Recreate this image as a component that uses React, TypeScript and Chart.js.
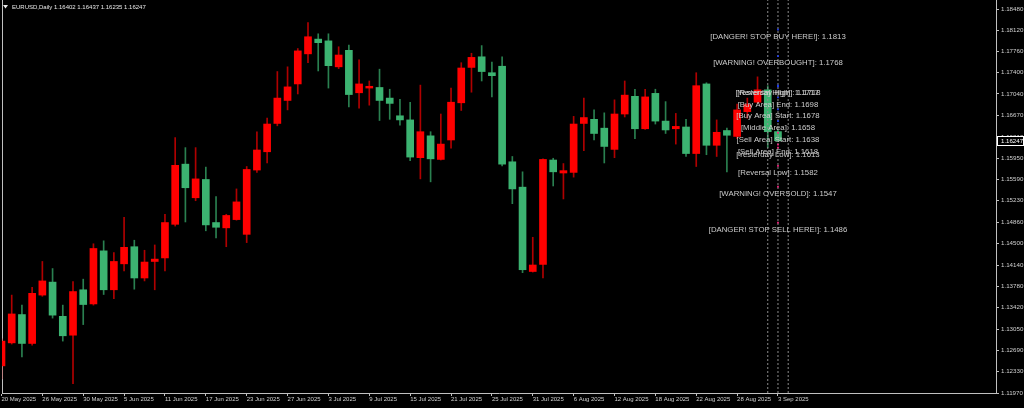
import React, { useEffect, useRef } from "react";
import { Chart, registerables } from "chart.js";

Chart.register(...registerables);

// ---- data ----
const TITLE_TEXT = "EURUSD,Daily 1.16402 1.16437 1.16235 1.16247";

const OPEN = [
  1.1243, 1.1282, 1.1330, 1.1281, 1.1363, 1.1385, 1.1327, 1.1295, 1.1372, 1.1348,
  1.1438, 1.1372, 1.1416, 1.1445, 1.1392, 1.1420, 1.1426, 1.1483, 1.1585, 1.1528,
  1.1559, 1.1486, 1.1477, 1.1491, 1.1466, 1.1575, 1.1606, 1.1654, 1.1693, 1.1721,
  1.1772, 1.1797, 1.1794, 1.1750, 1.1778, 1.1706, 1.1714, 1.1715, 1.1697, 1.1667,
  1.1660, 1.1596, 1.1633, 1.1593, 1.1626, 1.1689, 1.1749, 1.1767, 1.1740, 1.1751,
  1.1589, 1.1546, 1.1403, 1.1415, 1.1592, 1.1570, 1.1571, 1.1654, 1.1661, 1.1646,
  1.1610, 1.1670, 1.1700, 1.1645, 1.1705, 1.1658, 1.1645, 1.1648, 1.1603, 1.1721,
  1.1617, 1.1642, 1.1632, 1.1674, 1.1690, 1.1711, 1.16402,
];
const HIGH = [
  1.1289, 1.1363, 1.1346, 1.1376, 1.1420, 1.1408, 1.1346, 1.1386, 1.1390, 1.1450,
  1.1455, 1.1435, 1.1495, 1.1456, 1.1439, 1.1448, 1.1500, 1.1630, 1.1613, 1.1613,
  1.1580, 1.1530, 1.1500, 1.1543, 1.1581, 1.1640, 1.1663, 1.1742, 1.1750, 1.1781,
  1.1825, 1.1806, 1.1806, 1.1784, 1.1787, 1.1762, 1.1726, 1.1746, 1.1712, 1.1695,
  1.1690, 1.1719, 1.1640, 1.1670, 1.1714, 1.1757, 1.1773, 1.1786, 1.1758, 1.1767,
  1.1598, 1.1572, 1.1461, 1.1594, 1.1595, 1.1586, 1.1666, 1.1697, 1.1677, 1.1672,
  1.1694, 1.1726, 1.1712, 1.1712, 1.1712, 1.1691, 1.1671, 1.1661, 1.1740, 1.1723,
  1.1660, 1.1646, 1.1687, 1.1697, 1.1733, 1.1718, 1.16437,
];
const LOW = [
  1.1221, 1.1280, 1.1258, 1.1278, 1.1361, 1.1324, 1.1285, 1.1213, 1.1313, 1.1346,
  1.1364, 1.1357, 1.1404, 1.1373, 1.1387, 1.1372, 1.1404, 1.1480, 1.1487, 1.1523,
  1.1472, 1.1460, 1.1445, 1.1490, 1.1452, 1.1571, 1.1587, 1.1650, 1.1677, 1.1704,
  1.1757, 1.1743, 1.1714, 1.1747, 1.1682, 1.1680, 1.1685, 1.1659, 1.1661, 1.1651,
  1.1591, 1.1560, 1.1555, 1.1592, 1.1612, 1.1676, 1.1707, 1.1726, 1.1699, 1.1582,
  1.1518, 1.1401, 1.1402, 1.1392, 1.1548, 1.1526, 1.1563, 1.1608, 1.1626, 1.1587,
  1.1596, 1.1665, 1.1628, 1.1644, 1.1653, 1.1637, 1.1619, 1.1598, 1.1581, 1.1601,
  1.1598, 1.1572, 1.1628, 1.1663, 1.1688, 1.1613, 1.16235,
];
const CLOSE = [
  1.1285, 1.1331, 1.1281, 1.1366, 1.1387, 1.1329, 1.1294, 1.1369, 1.1347, 1.1442,
  1.1372, 1.1420, 1.1444, 1.1392, 1.1419, 1.1424, 1.1486, 1.1583, 1.1545, 1.1560,
  1.1482, 1.1478, 1.1498, 1.1521, 1.1576, 1.1609, 1.1653, 1.1697, 1.1716, 1.1777,
  1.1801, 1.1791, 1.1752, 1.1770, 1.1703, 1.1721, 1.1717, 1.1693, 1.1688, 1.1660,
  1.1597, 1.1640, 1.1594, 1.1619, 1.1690, 1.1748, 1.1766, 1.1742, 1.1735, 1.1585,
  1.1543, 1.1406, 1.1414, 1.1593, 1.1572, 1.1574, 1.1653, 1.1664, 1.1637, 1.1615,
  1.1670, 1.1702, 1.1645, 1.1699, 1.1658, 1.1643, 1.1649, 1.1603, 1.1718, 1.1617,
  1.1639, 1.1634, 1.1677, 1.1686, 1.1711, 1.1640, 1.16247,
];

const X_TICK_POS = [0, 4, 8, 12, 16, 20, 24, 28, 32, 36, 40, 44, 48, 52, 56, 60, 64, 68, 72, 76];
const X_TICK_LABELS = [
  "20 May 2025", "26 May 2025", "30 May 2025", "5 Jun 2025", "11 Jun 2025",
  "17 Jun 2025", "23 Jun 2025", "27 Jun 2025", "3 Jul 2025", "9 Jul 2025",
  "15 Jul 2025", "21 Jul 2025", "25 Jul 2025", "31 Jul 2025", "6 Aug 2025",
  "12 Aug 2025", "18 Aug 2025", "22 Aug 2025", "28 Aug 2025", "3 Sep 2025",
];
const Y_TICKS = [
  1.1848, 1.1812, 1.1776, 1.174, 1.1704, 1.1667, 1.1631, 1.1595, 1.1559, 1.1523,
  1.1486, 1.145, 1.1414, 1.1378, 1.1342, 1.1305, 1.1269, 1.1233, 1.1197,
];
const Y_MIN = 1.1197;
const Y_MAX = 1.18633;
const X_MIN = 0.05;
const X_MAX = 97.34;

const LEVEL_LABELS = [
  "[DANGER! STOP BUY HERE!]",
  "[WARNING! OVERBOUGHT]",
  "[Reversal High]",
  "[Yesterday High]",
  "[Buy Area] End",
  "[Buy Area] Start",
  "[Middle Area]",
  "[Sell Area] Start",
  "[Sell Area] End",
  "[Yesterday Low]",
  "[Reversal Low]",
  "[WARNING! OVERSOLD]",
  "[DANGER! STOP SELL HERE!]",
];
const LEVEL_VALUES = [1.1813, 1.1768, 1.1717, 1.1718, 1.1698, 1.1678, 1.1658, 1.1638, 1.1618, 1.1613, 1.1582, 1.1547, 1.1486];
const LEVEL_SIDE = ["buy", "buy", "buy", "buy", "buy", "buy", "buy", "sell", "sell", "sell", "sell", "sell", "sell"];
const LEVEL_BAR = 76;
const VLINE_POS = [75, 76, 77];
const CURRENT_PRICE = 1.16247;

// ---- styles ----
const UP_BODY = "#ff0000";
const DOWN_BODY = "#3cb371";
const UP_WICK = "#b00000";
const DOWN_WICK = "#2a8050";
const AXIS_COLOR = "#c0c0c0";
const TEXT_COLOR = "#d0d0d0";
const FONT = '"Liberation Sans", Arial, sans-serif';

const isUp = (i: number) => CLOSE[i] >= OPEN[i];

const overlayPlugin = {
  id: "overlay",
  beforeDatasetsDraw(chart: any) {
    const { ctx, chartArea } = chart;
    ctx.save();
    ctx.strokeStyle = AXIS_COLOR;
    ctx.lineWidth = 1;
    ctx.beginPath();
    ctx.moveTo(chartArea.left + 0.5, chartArea.top);
    ctx.lineTo(chartArea.left + 0.5, chartArea.bottom);
    ctx.stroke();
    ctx.restore();
  },
  afterDraw(chart: any) {
    const { ctx, chartArea, scales } = chart;
    const x = scales.x;
    const y = scales.y;
    ctx.save();
    // level texts
    ctx.font = `7.8px ${FONT}`;
    ctx.fillStyle = "#cccccc";
    ctx.textAlign = "center";
    ctx.textBaseline = "top";
    LEVEL_LABELS.forEach((lab, i) => {
      ctx.fillText(
        `${lab}: ${LEVEL_VALUES[i].toFixed(4)}`,
        x.getPixelForValue(LEVEL_BAR),
        y.getPixelForValue(LEVEL_VALUES[i]) + 3
      );
    });
    // current price box on the axis
    const py = y.getPixelForValue(CURRENT_PRICE);
    ctx.fillStyle = "#000000";
    ctx.fillRect(chartArea.right + 1, py - 4.5, 1024 - chartArea.right - 1, 9);
    ctx.strokeStyle = "#ffffff";
    ctx.lineWidth = 1;
    ctx.strokeRect(chartArea.right + 1.5, Math.round(py - 4.5) + 0.5, 1024 - chartArea.right - 2, 9);
    ctx.fillStyle = "#ffffff";
    ctx.font = `6.1px ${FONT}`;
    ctx.textAlign = "left";
    ctx.textBaseline = "middle";
    ctx.fillText(CURRENT_PRICE.toFixed(5), chartArea.right + 5, py + 0.5);
    // title
    ctx.fillStyle = "#e8e8e8";
    ctx.beginPath();
    ctx.moveTo(3, 5);
    ctx.lineTo(8, 5);
    ctx.lineTo(5.5, 8.5);
    ctx.closePath();
    ctx.fill();
    ctx.font = `6px ${FONT}`;
    ctx.textAlign = "left";
    ctx.textBaseline = "middle";
    ctx.fillText(TITLE_TEXT, 12, 7);
    ctx.restore();
  },
};

export default function App() {
  const ref = useRef<HTMLCanvasElement>(null);

  useEffect(() => {
    document.body.style.margin = "0";
    document.body.style.background = "#000";
    const wickData = OPEN.map((_, i) => ({ x: i, y: [LOW[i], HIGH[i]] }));
    const bodyData = OPEN.map((o, i) => ({ x: i, y: [Math.min(o, CLOSE[i]), Math.max(o, CLOSE[i])] }));

    const datasets: any[] = [
      {
        type: "bar",
        label: "wick",
        data: wickData,
        backgroundColor: (c: any) => (isUp(c.dataIndex) ? UP_WICK : DOWN_WICK),
        borderWidth: 0,
        barThickness: 1,
        grouped: false,
        order: 4,
      },
      {
        type: "bar",
        label: "body",
        data: bodyData,
        backgroundColor: (c: any) => (isUp(c.dataIndex) ? UP_BODY : DOWN_BODY),
        borderWidth: 0,
        barThickness: 7,
        minBarLength: 1,
        grouped: false,
        order: 3,
      },
      ...VLINE_POS.map((p) => ({
        type: "line",
        label: "vline",
        data: [
          { x: p, y: Y_MIN },
          { x: p, y: Y_MAX },
        ],
        borderColor: "#8c8c8c",
        borderWidth: 1,
        borderDash: [2, 2],
        pointRadius: 0,
        order: 2,
      })),
      {
        type: "line",
        label: "markers",
        data: LEVEL_VALUES.map((v) => ({ x: LEVEL_BAR, y: v })),
        showLine: false,
        pointStyle: "rect",
        pointRadius: 1.2,
        pointBorderWidth: 0,
        pointBackgroundColor: LEVEL_SIDE.map((s) => (s === "buy" ? "#2040ff" : "#ff2080")),
        order: 1,
      },
    ];

    const chart = new Chart(ref.current as HTMLCanvasElement, {
      type: "bar",
      data: { datasets },
      options: {
        animation: false,
        responsive: false,
        maintainAspectRatio: false,
        events: [],
        layout: { autoPadding: false, padding: { left: 2, right: 0, top: 0, bottom: 0 } },
        plugins: { legend: { display: false }, tooltip: { enabled: false }, title: { display: false } },
        scales: {
          x: {
            type: "linear",
            min: X_MIN,
            max: X_MAX,
            offset: false,
            grid: { display: true, drawOnChartArea: false, drawTicks: true, tickLength: 3, color: AXIS_COLOR, offset: false },
            border: { display: true, color: AXIS_COLOR, width: 1 },
            ticks: {
              autoSkip: false,
              maxRotation: 0,
              minRotation: 0,
              align: "start",
              padding: 0,
              color: TEXT_COLOR,
              font: { family: FONT, size: 6 },
              callback: (v: any) => {
                const k = X_TICK_POS.indexOf(Number(v));
                return k >= 0 ? X_TICK_LABELS[k] : "";
              },
            },
            afterBuildTicks: (s: any) => {
              s.ticks = X_TICK_POS.map((v) => ({ value: v }));
            },
            afterFit: (s: any) => {
              s.height = 15;
              s.paddingLeft = 0;
              s.paddingRight = 0;
            },
          },
          y: {
            type: "linear",
            position: "right",
            min: Y_MIN,
            max: Y_MAX,
            beginAtZero: false,
            grid: { display: true, drawOnChartArea: false, drawTicks: true, tickLength: 3, color: AXIS_COLOR },
            border: { display: true, color: AXIS_COLOR, width: 1 },
            ticks: {
              autoSkip: false,
              padding: 2,
              color: TEXT_COLOR,
              font: { family: FONT, size: 6.2 },
              callback: (v: any) => Number(v).toFixed(5),
            },
            afterBuildTicks: (s: any) => {
              s.ticks = Y_TICKS.map((v) => ({ value: v }));
            },
            afterFit: (s: any) => {
              s.width = 28;
              s.paddingTop = 0;
              s.paddingBottom = 0;
            },
          },
        },
      } as any,
      plugins: [overlayPlugin],
    });
    return () => chart.destroy();
  }, []);

  return (
    <div style={{ position: "absolute", left: 0, top: 0, width: 1024, height: 408, background: "#000" }}>
      <canvas ref={ref} width={1024} height={408} style={{ display: "block", width: 1024, height: 408 }} />
    </div>
  );
}
